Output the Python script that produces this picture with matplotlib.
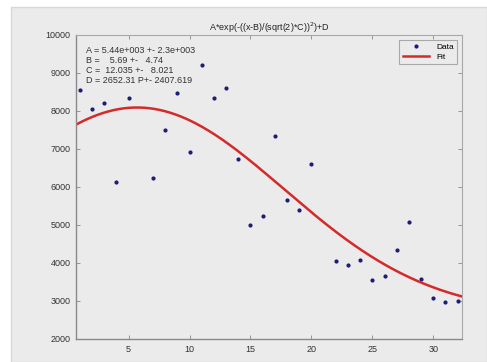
import numpy as np
import matplotlib
matplotlib.use('Agg')
import matplotlib.pyplot as plt
from matplotlib.patches import Rectangle

# measured points (x = day index, y = value)
xData = [1, 2, 3, 4, 5, 7, 8, 9, 10, 11, 12, 13, 14, 15, 16, 17, 18, 19, 20,
         22, 23, 24, 25, 26, 27, 28, 29, 30, 31, 32]
yData = [8553, 8050, 8220, 6130, 8350, 6245, 7500, 8465, 6930, 9210, 8350, 8600,
         6745, 5000, 5230, 7335, 5670, 5390, 6600, 4045, 3940, 4070, 3550, 3665,
         4340, 5080, 3590, 3070, 2975, 2995]

# fitted parameters shown on the chart
fitA = 5.44e3
fitB = 5.69
fitC = 12.035
fitD = 2652.31

fitLines = ['A = 5.44e+003 +- 2.3e+003',
            'B =    5.69 +-   4.74',
            'C =  12.035 +-   8.021',
            'D = 2652.31 P+- 2407.619']

xTicks = [5, 10, 15, 20, 25, 30]
yTicks = [2000, 3000, 4000, 5000, 6000, 7000, 8000, 9000, 10000]


def gaussModel(x):
    return fitA * np.exp(-((x - fitB) / (np.sqrt(2) * fitC)) ** 2) + fitD


def main():
    plt.rcParams['font.family'] = ['Liberation Sans', 'DejaVu Sans']
    bg = '#ebebeb'

    fig = plt.figure(figsize=(4.87, 3.62), dpi=100, facecolor='white')
    fig.patches.append(Rectangle((11 / 487, 0), 1 - 11 / 487, 1 - 7 / 362,
                                 transform=fig.transFigure, facecolor=bg,
                                 edgecolor='#d8d8d8', linewidth=1.0, zorder=-10))

    ax = fig.add_axes([76 / 487, 1 - 339 / 362, (462 - 76) / 487, (339 - 35) / 362])
    ax.set_zorder(5)
    ax.set_facecolor(bg)

    xs = np.linspace(0.68, 32.36, 300)
    ax.plot(xData, yData, '.', color='#1c1c78', markersize=4, label='Data')
    ax.plot(xs, gaussModel(xs), color='#d42a2a', linewidth=1.8, label='Fit')

    ax.set_xlim(0.68, 32.36)
    ax.set_ylim(2000, 10000)
    ax.set_xticks(xTicks)
    ax.set_yticks(yTicks)
    ax.tick_params(direction='in', length=3, width=0.6, colors='#888888',
                   labelcolor='#333333', labelsize=6.5, top=True, right=True,
                   labeltop=False, labelright=False, pad=4)
    for side in ['left', 'bottom']:
        ax.spines[side].set_color('#8a8a8a')
        ax.spines[side].set_linewidth(1.0)
    for side in ['top', 'right']:
        ax.spines[side].set_color('#a8a8a8')
        ax.spines[side].set_linewidth(0.8)

    ax.set_title(r'A*exp(-((x-B)/(sqrt(2)*C))$^2$)+D', fontsize=6.5,
                 color='#222222', pad=3)

    ax.text(0.026, 0.965, '\n'.join(fitLines), transform=ax.transAxes,
            fontsize=6.5, color='#333333', va='top', ha='left', linespacing=1.15)

    leg = ax.legend(loc='upper right', fontsize=6, frameon=True, fancybox=False,
                    borderaxespad=0.6, handlelength=3.2, borderpad=0.4,
                    labelspacing=0.2, markerscale=1.0, numpoints=1)
    leg.get_frame().set_facecolor(bg)
    leg.get_frame().set_edgecolor('#999999')
    leg.get_frame().set_linewidth(0.8)

    fig.savefig('out.png', dpi=100, facecolor=fig.get_facecolor())


if __name__ == '__main__':
    main()
